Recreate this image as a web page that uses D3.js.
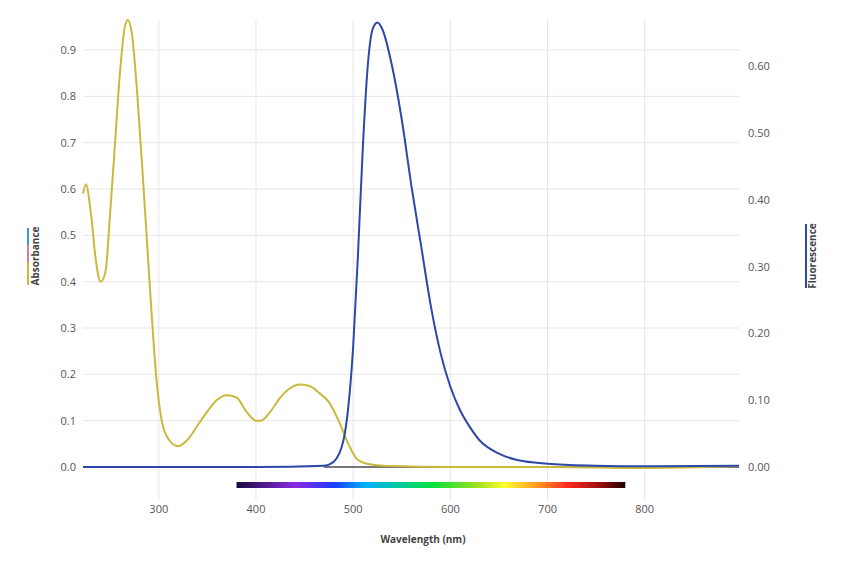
<!DOCTYPE html><html><head><script src="https://cdn.jsdelivr.net/npm/d3@7"></script>
<style>body{margin:0;background:#fff;font-family:"Open Sans",sans-serif}</style></head><body><svg id="c" width="850" height="566"></svg>
<script>
const absWl=[222,225,230,235,240,245,250,255,260,265,268,272,278,285,292,298,303,310,320,330,340,350,360,370,380,390,400,405,415,425,435,445,455,465,475,485,495,505,520,540,600,700,800,897];
const absVal=[0.59,0.61,0.55,0.45,0.40,0.42,0.55,0.70,0.85,0.95,0.965,0.94,0.80,0.58,0.35,0.18,0.10,0.06,0.045,0.06,0.09,0.12,0.145,0.155,0.15,0.12,0.10,0.10,0.12,0.15,0.17,0.178,0.175,0.16,0.14,0.10,0.05,0.015,0.005,0.002,0,0,-0.002,0.002];
const flWl=[222,300,400,470,480,490,495,500,505,510,515,520,525,530,540,550,560,570,580,590,600,610,620,630,650,670,700,750,800,897];
const flVal=[0,0,0,0.002,0.008,0.04,0.09,0.18,0.32,0.48,0.60,0.655,0.665,0.655,0.60,0.52,0.42,0.33,0.24,0.17,0.12,0.085,0.06,0.04,0.02,0.01,0.005,0.002,0.001,0.002];
const xTicks=[300,400,500,600,700,800];
const absTicks=[0,0.1,0.2,0.3,0.4,0.5,0.6,0.7,0.8,0.9];
const flTicks=[0,0.1,0.2,0.3,0.4,0.5,0.6];
const svg=d3.select("#c");
const x=d3.scaleLinear().domain([222,897]).range([83,739]);
const yA=d3.scaleLinear().domain([0,0.9]).range([467,50]);
const yF=d3.scaleLinear().domain([0,0.6]).range([467,66]);
const g=svg.append("g");
xTicks.forEach(t=>g.append("line").attr("x1",x(t)).attr("x2",x(t)).attr("y1",20).attr("y2",500).attr("stroke","#e6e6e6"));
absTicks.forEach(t=>g.append("line").attr("x1",83).attr("x2",739).attr("y1",yA(t)).attr("y2",yA(t)).attr("stroke","#e6e6e6"));
const tf={"font-size":"11px","fill":"#555"};
xTicks.forEach(t=>g.append("text").attr("x",x(t)).attr("y",513).attr("text-anchor","middle").attr("font-size",11).attr("fill","#555").text(t));
absTicks.forEach(t=>g.append("text").attr("x",76).attr("y",yA(t)+4).attr("text-anchor","end").attr("font-size",11).attr("fill","#555").text(t.toFixed(1)));
flTicks.forEach(t=>g.append("text").attr("x",748).attr("y",yF(t)+4).attr("font-size",11).attr("fill","#555").text(t.toFixed(2)));
// gray baseline
g.append("line").attr("x1",x(470)).attr("x2",x(897)).attr("y1",yA(0)).attr("y2",yA(0)).attr("stroke","#777").attr("stroke-width",2);
// spectrum bar
const grad=svg.append("defs").append("linearGradient").attr("id","sp");
[["0","#1a0a40"],["0.15","#8a2be2"],["0.25","#1a3cff"],["0.33","#00b0ff"],["0.5","#00e040"],["0.62","#a0e020"],["0.69","#ffff30"],["0.78","#ff9020"],["0.85","#ff2a20"],["0.93","#a01010"],["1","#200000"]].forEach(s=>grad.append("stop").attr("offset",s[0]).attr("stop-color",s[1]));
g.append("rect").attr("x",x(380)).attr("width",x(780)-x(380)).attr("y",482).attr("height",6).attr("fill","url(#sp)");
const lineA=d3.line().x((d,i)=>x(absWl[i])).y(d=>yA(d)).curve(d3.curveMonotoneX);
const lineF=d3.line().x((d,i)=>x(flWl[i])).y(d=>yF(d)).curve(d3.curveMonotoneX);
g.append("path").attr("d",lineA(absVal)).attr("fill","none").attr("stroke","#c9b93c").attr("stroke-width",2);
g.append("path").attr("d",lineF(flVal)).attr("fill","none").attr("stroke","#2c48a8").attr("stroke-width",2);
// axis titles
g.append("text").attr("x",423).attr("y",543).attr("text-anchor","middle").attr("font-size",10).attr("font-weight","bold").attr("fill","#444").text("Wavelength (nm)");
g.append("text").attr("transform","translate(39,256) rotate(-90)").attr("text-anchor","middle").attr("font-size",10).attr("font-weight","bold").attr("fill","#444").text("Absorbance");
g.append("text").attr("transform","translate(816,256) rotate(-90)").attr("text-anchor","middle").attr("font-size",10).attr("font-weight","bold").attr("fill","#444").text("Fluorescence");
[["#3a9ad9",228,245],["#e07a9a",245,262],["#c9b93c",262,285]].forEach(c=>g.append("line").attr("x1",28).attr("x2",28).attr("y1",c[1]).attr("y2",c[2]).attr("stroke",c[0]).attr("stroke-width",2));
g.append("line").attr("x1",806).attr("x2",806).attr("y1",224).attr("y2",288).attr("stroke","#2c48a8").attr("stroke-width",2);
</script></body></html>
